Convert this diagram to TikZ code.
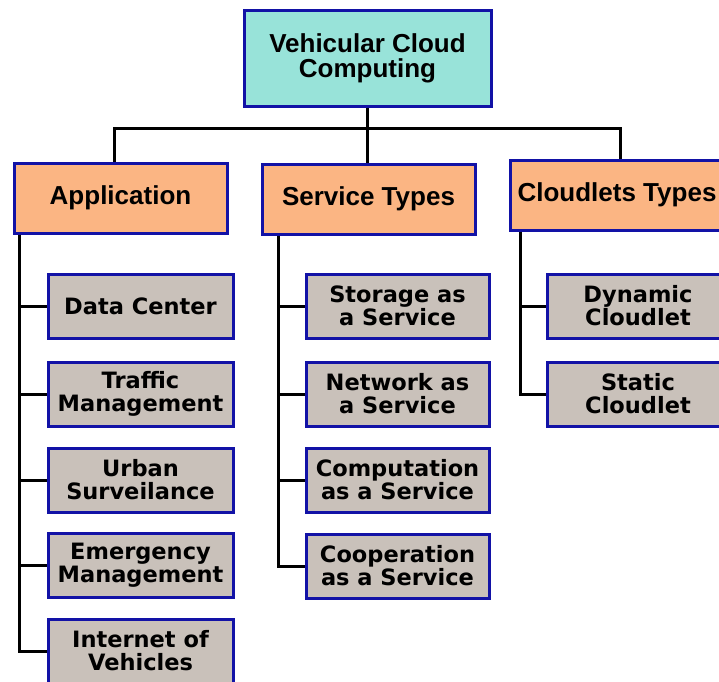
\documentclass[tikz,border=0pt]{standalone}
\usepackage{fontspec}
\setmainfont{DejaVu Sans}
\newfontfamily\headfont{Liberation Sans}
\definecolor{tealfill}{HTML}{98E3D9}
\definecolor{orangefill}{HTML}{FBB583}
\definecolor{grayfill}{HTML}{C9C1BA}
\definecolor{boxblue}{HTML}{1212A6}
\begin{document}
\begin{tikzpicture}[x=1pt,y=-1pt,
  box/.style={draw=boxblue,line width=3pt,align=center,inner sep=0pt},
  rootbox/.style={box,fill=tealfill,minimum width=247pt,minimum height=96pt,font=\headfont\bfseries\fontsize{26}{25}\selectfont},
  headbox/.style={box,fill=orangefill,minimum width=213pt,minimum height=70pt,font=\headfont\bfseries\fontsize{26}{23}\selectfont},
  leafbox/.style={box,fill=grayfill,minimum height=64pt,font=\bfseries\fontsize{22.5}{23}\selectfont},
  conn/.style={line width=3pt,black}]
\useasboundingbox (0,0) rectangle (719,681);
\clip (0,0) rectangle (719,681);
% root and headers
\node[rootbox] (root) at (367.5,58) {Vehicular Cloud\\Computing};
\node[headbox] (app) at (120.5,198) {Application};
\node[headbox] (svc) at (368.5,199) {Service Types};
\node[headbox,minimum width=214pt] (cld) at (617,195) {Cloudlets Types};
% application leaves
\node[leafbox,minimum width=185pt] (dc) at (140.5,306) {Data Center};
\node[leafbox,minimum width=185pt] (tm) at (140.5,394) {Traffic\\Management};
\node[leafbox,minimum width=185pt] (us) at (140.5,480) {Urban\\Surveilance};
\node[leafbox,minimum width=185pt] (em) at (140.5,565) {Emergency\\Management};
\node[leafbox,minimum width=185pt] (iov) at (140.5,651) {Internet of\\Vehicles};
% service leaves
\node[leafbox,minimum width=183pt] (sas) at (397.5,306) {Storage as\\a Service};
\node[leafbox,minimum width=183pt] (nas) at (397.5,394) {Network as\\a Service};
\node[leafbox,minimum width=183pt] (cas) at (397.5,480) {Computation\\as a Service};
\node[leafbox,minimum width=183pt] (coas) at (397.5,566) {Cooperation\\as a Service};
% cloudlet leaves
\node[leafbox,minimum width=182pt] (dyn) at (638,306) {Dynamic\\Cloudlet};
\node[leafbox,minimum width=182pt] (sta) at (638,394) {Static\\Cloudlet};
% top connectors
\coordinate (bar) at (366,128);
\draw[conn] (root.south) -- (root.south |- svc.north);
\draw[conn] ([xshift=-6.5pt]app.north) |- (bar) -| ([xshift=3pt]cld.north);
% application stem
\coordinate (as) at ([xshift=7pt]app.south west);
\draw[conn] (as) |- (iov.west);
\foreach \n in {dc,tm,us,em} \draw[conn] (as |- \n.west) -- (\n.west);
% service stem
\coordinate (ss) at ([xshift=18pt]svc.south west);
\draw[conn] (ss) |- (coas.west);
\foreach \n in {sas,nas,cas} \draw[conn] (ss |- \n.west) -- (\n.west);
% cloudlet stem
\coordinate (cs) at ([xshift=12pt]cld.south west);
\draw[conn] (cs) |- (sta.west);
\draw[conn] (cs |- dyn.west) -- (dyn.west);
\end{tikzpicture}
\end{document}
